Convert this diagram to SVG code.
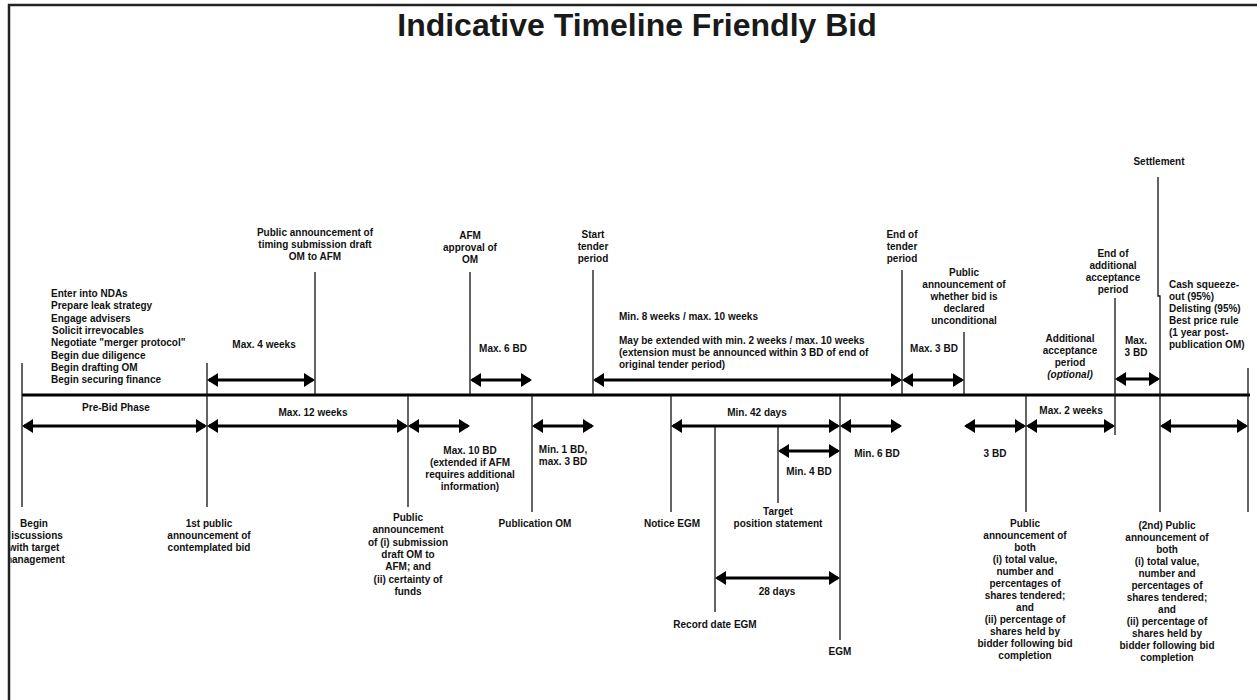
<svg xmlns="http://www.w3.org/2000/svg" width="1257" height="700" viewBox="0 0 1257 700">
<style>
text{font-family:"Liberation Sans",Arial,sans-serif;font-size:10px;font-weight:bold;fill:#111}
.c{text-anchor:middle}
.title{font-size:32px;font-weight:bold;fill:#1a1a1a}
.tick{stroke:#111;stroke-width:1.3;fill:none}
.arr{stroke:#000;stroke-width:3;fill:none;marker-start:url(#ah);marker-end:url(#ah)}
.it{font-style:italic}
</style>
<defs>
<marker id="ah" viewBox="0 0 11 14" refX="9" refY="7" markerWidth="11" markerHeight="14" markerUnits="userSpaceOnUse" orient="auto-start-reverse"><path d="M0,0 L11,7 L0,14 Z" fill="#000"/></marker>
<clipPath id="frameclip"><rect x="10.5" y="0" width="1250" height="700"/></clipPath>
</defs>
<rect width="1257" height="700" fill="#fff"/>
<path d="M9,700 V5 H1257" stroke="#222" stroke-width="2.5" fill="none"/>
<text class="title c" x="637" y="36">Indicative Timeline Friendly Bid</text>
<line id="timeline" x1="22" y1="395" x2="1250" y2="395" stroke="#000" stroke-width="3"/>

<g id="n-begin-discussions">
<line class="tick" x1="22" y1="363" x2="22" y2="507"/>
<text class="c" x="34" y="527" clip-path="url(#frameclip)"><tspan x="34">Begin</tspan><tspan x="34" dy="12">discussions</tspan><tspan x="34" dy="12">with target</tspan><tspan x="34" dy="12">management</tspan></text>
</g>
<g id="n-pre-bid-activities">
<text x="51" y="297"><tspan x="51">Enter into NDAs</tspan><tspan x="51" dy="12.3">Prepare leak strategy</tspan><tspan x="51" dy="12.3">Engage advisers</tspan><tspan x="52" dy="12.3">Solicit irrevocables</tspan><tspan x="51" dy="12.3">Negotiate "merger protocol"</tspan><tspan x="51" dy="12.3">Begin due diligence</tspan><tspan x="51" dy="12.3">Begin drafting OM</tspan><tspan x="51" dy="12.3">Begin securing finance</tspan></text>
</g>
<g id="n-first-announcement">
<line class="tick" x1="207" y1="363" x2="207" y2="507"/>
<text class="c" x="209" y="527"><tspan x="209">1st public</tspan><tspan x="209" dy="12">announcement of</tspan><tspan x="209" dy="12">contemplated bid</tspan></text>
</g>
<g id="n-timing-announcement">
<line class="tick" x1="315" y1="272" x2="315" y2="395"/>
<text class="c" x="315" y="236"><tspan x="315">Public announcement of</tspan><tspan x="315" dy="12">timing submission draft</tspan><tspan x="315" dy="12">OM to AFM</tspan></text>
</g>
<g id="n-submission-announcement">
<line class="tick" x1="408" y1="395" x2="408" y2="507"/>
<text class="c" x="408" y="521"><tspan x="408">Public</tspan><tspan x="408" dy="12.3">announcement</tspan><tspan x="408" dy="12.3">of (i) submission</tspan><tspan x="408" dy="12.3">draft OM to</tspan><tspan x="408" dy="12.3">AFM; and</tspan><tspan x="408" dy="12.3">(ii) certainty of</tspan><tspan x="408" dy="12.3">funds</tspan></text>
</g>
<g id="n-afm-approval">
<line class="tick" x1="470" y1="272" x2="470" y2="395"/>
<text class="c" x="470" y="239"><tspan x="470">AFM</tspan><tspan x="470" dy="12">approval of</tspan><tspan x="470" dy="12">OM</tspan></text>
</g>
<g id="n-publication-om">
<line class="tick" x1="532" y1="395" x2="532" y2="512"/>
<text class="c" x="535" y="527">Publication OM</text>
</g>
<g id="n-start-tender">
<line class="tick" x1="593" y1="270" x2="593" y2="395"/>
<text class="c" x="593" y="238"><tspan x="593">Start</tspan><tspan x="593" dy="12">tender</tspan><tspan x="593" dy="12">period</tspan></text>
</g>
<g id="n-notice-egm">
<line class="tick" x1="671" y1="395" x2="671" y2="512"/>
<text class="c" x="672" y="527">Notice EGM</text>
</g>
<g id="n-record-date-egm">
<line class="tick" x1="715" y1="427" x2="715" y2="612"/>
<text class="c" x="715" y="628">Record date EGM</text>
</g>
<g id="n-target-position">
<line class="tick" x1="778" y1="427" x2="778" y2="503"/>
<text class="c" x="778" y="515"><tspan x="778">Target</tspan><tspan x="778" dy="12">position statement</tspan></text>
</g>
<g id="n-egm">
<line class="tick" x1="840" y1="395" x2="840" y2="640"/>
<text class="c" x="840" y="655">EGM</text>
</g>
<g id="n-end-tender">
<line class="tick" x1="902" y1="270" x2="902" y2="395"/>
<text class="c" x="902" y="238"><tspan x="902">End of</tspan><tspan x="902" dy="12">tender</tspan><tspan x="902" dy="12">period</tspan></text>
</g>
<g id="n-unconditional">
<line class="tick" x1="964" y1="332" x2="964" y2="395"/>
<text class="c" x="964" y="276"><tspan x="964">Public</tspan><tspan x="964" dy="12">announcement of</tspan><tspan x="964" dy="12">whether bid is</tspan><tspan x="964" dy="12">declared</tspan><tspan x="964" dy="12">unconditional</tspan></text>
</g>
<g id="n-results-announcement">
<line class="tick" x1="1026" y1="395" x2="1026" y2="512"/>
<text class="c" x="1025" y="527"><tspan x="1025">Public</tspan><tspan x="1025" dy="12">announcement of</tspan><tspan x="1025" dy="12">both</tspan><tspan x="1025" dy="12">(i) total value,</tspan><tspan x="1025" dy="12">number and</tspan><tspan x="1025" dy="12">percentages of</tspan><tspan x="1025" dy="12">shares tendered;</tspan><tspan x="1025" dy="12">and</tspan><tspan x="1025" dy="12">(ii) percentage of</tspan><tspan x="1025" dy="12">shares held by</tspan><tspan x="1025" dy="12">bidder following bid</tspan><tspan x="1025" dy="12">completion</tspan></text>
</g>
<g id="n-additional-period">
<text class="c" x="1070" y="342"><tspan x="1070">Additional</tspan><tspan x="1070" dy="12">acceptance</tspan><tspan x="1070" dy="12">period</tspan><tspan x="1070" dy="12" class="it">(optional)</tspan></text>
</g>
<g id="n-end-additional">
<line class="tick" x1="1115" y1="298" x2="1115" y2="435"/>
<text class="c" x="1113" y="257"><tspan x="1113">End of</tspan><tspan x="1113" dy="12">additional</tspan><tspan x="1113" dy="12">acceptance</tspan><tspan x="1113" dy="12">period</tspan></text>
</g>
<g id="n-settlement">
<path class="tick" d="M1158,177 V296 H1160 V512"/>
<text class="c" x="1159" y="165">Settlement</text>
</g>
<g id="n-second-announcement">
<text class="c" x="1167" y="529"><tspan x="1167">(2nd) Public</tspan><tspan x="1167" dy="12">announcement of</tspan><tspan x="1167" dy="12">both</tspan><tspan x="1167" dy="12">(i) total value,</tspan><tspan x="1167" dy="12">number and</tspan><tspan x="1167" dy="12">percentages of</tspan><tspan x="1167" dy="12">shares tendered;</tspan><tspan x="1167" dy="12">and</tspan><tspan x="1167" dy="12">(ii) percentage of</tspan><tspan x="1167" dy="12">shares held by</tspan><tspan x="1167" dy="12">bidder following bid</tspan><tspan x="1167" dy="12">completion</tspan></text>
</g>
<g id="n-post-settlement">
<line class="tick" x1="1248" y1="368" x2="1248" y2="512"/>
<text x="1169" y="288"><tspan x="1169">Cash squeeze-</tspan><tspan x="1169" dy="12">out (95%)</tspan><tspan x="1169" dy="12">Delisting (95%)</tspan><tspan x="1169" dy="12">Best price rule</tspan><tspan x="1169" dy="12">(1 year post-</tspan><tspan x="1169" dy="12">publication OM)</tspan></text>
</g>

<g id="connectors">
<line class="arr" x1="209" y1="380" x2="313" y2="380"/>
<line class="arr" x1="472" y1="380" x2="530" y2="380"/>
<line class="arr" x1="595" y1="380" x2="900" y2="380"/>
<line class="arr" x1="904" y1="380" x2="962" y2="380"/>
<line class="arr" x1="1117" y1="379" x2="1158" y2="379"/>
<line class="arr" x1="24" y1="426" x2="205" y2="426"/>
<line class="arr" x1="209" y1="426" x2="406" y2="426"/>
<line class="arr" x1="410" y1="426" x2="468" y2="426"/>
<line class="arr" x1="534" y1="426" x2="592" y2="426"/>
<line class="arr" x1="673" y1="426" x2="838" y2="426"/>
<line class="arr" x1="842" y1="426" x2="900" y2="426"/>
<line class="arr" x1="966" y1="426" x2="1024" y2="426"/>
<line class="arr" x1="1028" y1="426" x2="1113" y2="426"/>
<line class="arr" x1="1162" y1="426" x2="1246" y2="426"/>
<line class="arr" x1="780" y1="451" x2="838" y2="451"/>
<line class="arr" x1="717" y1="578" x2="838" y2="578"/>
</g>

<g id="connector-labels">
<text class="c" x="264" y="348">Max. 4 weeks</text>
<text class="c" x="503" y="352">Max. 6 BD</text>
<text x="619" y="320">Min. 8 weeks / max. 10 weeks</text>
<text x="619" y="344"><tspan x="619">May be extended with min. 2 weeks / max. 10 weeks</tspan><tspan x="619" dy="12">(extension must be announced within 3 BD of end of</tspan><tspan x="619" dy="12">original tender period)</tspan></text>
<text class="c" x="934" y="352">Max. 3 BD</text>
<text class="c" x="1136" y="344"><tspan x="1136">Max.</tspan><tspan x="1136" dy="12">3 BD</tspan></text>
<text class="c" x="116" y="411">Pre-Bid Phase</text>
<text class="c" x="313" y="416">Max. 12 weeks</text>
<text class="c" x="470" y="454"><tspan x="470">Max. 10 BD</tspan><tspan x="470" dy="12">(extended if AFM</tspan><tspan x="470" dy="12">requires additional</tspan><tspan x="470" dy="12">information)</tspan></text>
<text class="c" x="563" y="453"><tspan x="563">Min. 1 BD,</tspan><tspan x="563" dy="12">max. 3 BD</tspan></text>
<text class="c" x="757" y="416">Min. 42 days</text>
<text class="c" x="809" y="475">Min. 4 BD</text>
<text class="c" x="877" y="457">Min. 6 BD</text>
<text class="c" x="995" y="457">3 BD</text>
<text class="c" x="1071" y="414">Max. 2 weeks</text>
<text class="c" x="777" y="595">28 days</text>
</g>
</svg>
